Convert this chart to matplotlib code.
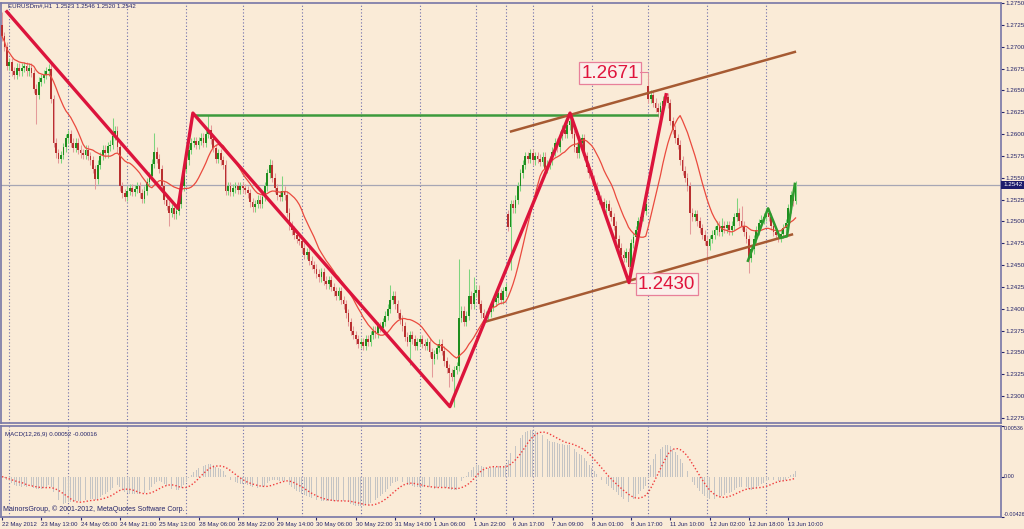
import numpy as np
import pandas as pd
import matplotlib
matplotlib.use("Agg")
import matplotlib.pyplot as plt
from matplotlib.transforms import blended_transform_factory

plt.rcParams["font.family"] = ["Liberation Sans", "DejaVu Sans"]

BG = "#FAEBD7"
NAVY = "#24246A"
FRAME = "#7676A6"
GRID = "#6C6CAA"

# hourly closes, pips above 1.2000, one row per 16 bars (one x label each)
close_pips = [
    712, 700, 678, 682, 672, 668, 676, 672, 676, 678, 672, 676, 670, 652, 645, 660,
    664, 668, 672, 675, 640, 590, 578, 572, 576, 585, 595, 600, 590, 584, 590, 582,
    578, 576, 582, 575, 570, 560, 548, 565, 575, 582, 578, 586, 588, 598, 604, 585,
    540, 532, 528, 535, 538, 534, 537, 540, 532, 526, 535, 545, 552, 566, 580, 572,
    560, 540, 525, 518, 510, 515, 508, 512, 520, 540, 560, 570, 582, 590, 592, 588,
    592, 596, 590, 600, 605, 594, 584, 572, 578, 570, 565, 535, 540, 534, 538, 540,
    536, 540, 538, 536, 532, 522, 516, 520, 525, 520, 528, 540, 555, 565, 550, 538,
    530, 528, 535, 530, 510, 495, 490, 485, 480, 478, 470, 462, 465, 455, 450, 446,
    440, 436, 442, 432, 428, 433, 425, 420, 415, 420, 410, 405, 395, 385, 375, 370,
    365, 360, 362, 358, 365, 362, 370, 375, 372, 380, 378, 385, 392, 400, 410, 415,
    405, 395, 388, 380, 368, 362, 370, 365, 358, 362, 365, 360, 358, 362, 350, 342,
    348, 355, 360, 352, 340, 332, 326, 322, 330, 334, 390, 398, 385, 392, 415, 405,
    418, 422, 405, 395, 390, 392, 396, 402, 408, 412, 418, 410, 420, 425, 494, 520,
    515, 525, 540, 555, 565, 575, 572, 578, 570, 575, 572, 568, 574, 560, 565, 570,
    580, 590, 585, 598, 605, 600, 610, 615, 600, 585, 578, 590, 595, 575, 562, 555,
    548, 540, 530, 525, 522, 515, 520, 512, 505, 495, 480, 470, 462, 458, 465, 448,
    475, 482, 490, 500, 505, 512, 520, 640, 645, 636, 630, 625, 632, 638, 642, 635,
    615, 605, 595, 588, 570, 558, 550, 540, 510, 505, 508, 500, 492, 485, 478, 472,
    480, 485, 490, 495, 488, 495, 492, 496, 490, 495, 505, 510, 500, 495, 488, 480,
    458, 468, 480, 490, 498, 502, 505, 510, 505, 495, 488, 485, 482, 486, 492, 498,
    515, 530, 523, 542,
]
first_open = 1.2725
# opening prices after data / weekend gaps
gap_opens = {206: 1.2508, 263: 1.2655}
# long shadows
spike_highs = {0: 1.2740, 45: 1.2618, 62: 1.2601, 84: 1.2622, 109: 1.2572, 114: 1.2552,
               158: 1.2427, 186: 1.2457, 190: 1.2446, 192: 1.2436, 263: 1.2670,
               293: 1.2504, 299: 1.2527, 301: 1.2518, 311: 1.2515, 323: 1.2546}
spike_lows = {14: 1.2612, 38: 1.2537, 68: 1.2495, 166: 1.2336, 175: 1.2322, 182: 1.2310,
              184: 1.2288, 207: 1.2444, 255: 1.2430, 280: 1.2486, 287: 1.2452,
              304: 1.2441, 323: 1.2520}

time_labels = ["22 May 2012", "23 May 13:00", "24 May 05:00", "24 May 21:00",
               "25 May 13:00", "28 May 06:00", "28 May 22:00", "29 May 14:00",
               "30 May 06:00", "30 May 22:00", "31 May 14:00", "1 Jun 06:00",
               "1 Jun 22:00", "6 Jun 17:00", "7 Jun 09:00", "8 Jun 01:00",
               "8 Jun 17:00", "11 Jun 10:00", "12 Jun 02:00", "12 Jun 18:00",
               "13 Jun 10:00"]
day_starts = [3, 27, 51, 75, 98, 122, 146, 170, 193, 205, 216, 240, 263, 287, 311]

# hand drawn objects (bar, price)
zz_bars = [2, 71.6, 77.7, 182.3, 231.2, 255.2, 270.3]
zz_prices = [1.2740, 1.2515, 1.2624, 1.2288, 1.2624, 1.2430, 1.2645]
zz2_bars = [303.6, 311.8, 316.7, 319.5, 322.7]
zz2_prices = [1.2455, 1.2515, 1.2481, 1.2483, 1.2543]
hline_bars = [78.0, 266.5]
hline_price = 1.2622
chan_up_bars, chan_up_prices = [207.2, 322.7], [1.2603, 1.2694]
chan_lo_bars, chan_lo_prices = [197.0, 321.5], [1.23855, 1.2485]
bid = 1.2542
macd_ticks = [-0.00426, 0.0, 0.00536]
macd_tick_labels = ["-0.00426", "0.00", "0.00536"]

closes = 1.2 + np.array(close_pips) / 10000.0
n = len(closes)
opens = np.concatenate([[first_open], closes[:-1]])
for i, v in gap_opens.items():
    opens[i] = v
WICK = 0.0005
hi = np.maximum(opens, closes) + WICK
lo = np.minimum(opens, closes) - WICK
for i, v in spike_highs.items():
    hi[i] = v
for i, v in spike_lows.items():
    lo[i] = v
bars = np.arange(n)
up = closes >= opens

s = pd.Series(closes)
ma = s.rolling(14, min_periods=1).mean()
macd = s.ewm(span=12, adjust=False).mean() - s.ewm(span=26, adjust=False).mean()
signal = macd.rolling(9, min_periods=1).mean()

W, H = 1024, 529
fig = plt.figure(figsize=(W / 100, H / 100), dpi=100, facecolor=BG)


def px_axes(x0, y0, x1, y1):
    return fig.add_axes([x0 / W, 1 - y1 / H, (x1 - x0) / W, (y1 - y0) / H])


ax = px_axes(1, 3, 1001, 423)
axm = px_axes(1, 426, 1001, 517)
XL = (-0.4, 406.6)
FS = 4.5

for a in (ax, axm):
    a.set_facecolor(BG)
    a.set_xlim(*XL)
    for sp in a.spines.values():
        sp.set_color(FRAME)
        sp.set_linewidth(1.2)
    for d in day_starts:
        a.axvline(d, color=GRID, lw=0.8, ls=(0, (1, 2)), zorder=0)
    a.yaxis.tick_right()
    a.tick_params(axis="y", labelsize=FS, colors=NAVY, length=2, pad=1)

# --- main panel ---
ax.set_ylim(1.22693, 1.27477)
ax.set_xticks([])
yt = np.arange(1.2275, 1.27501, 0.0025)
ax.set_yticks(yt)
ax.set_yticklabels([f"{v:.4f}" for v in yt])
ax.axhline(bid, color="#A6A6B4", lw=0.9, zorder=1)

ax.vlines(bars[up], lo[up], hi[up], color="#7ED47E", lw=0.75, zorder=2)
ax.vlines(bars[~up], lo[~up], hi[~up], color="#E49A9A", lw=0.75, zorder=2)
body_lo = np.minimum(opens, closes)
body_h = np.maximum(np.abs(closes - opens), 0.00008)
ax.bar(bars[up], body_h[up], bottom=body_lo[up], width=0.72, color="#1E8E1E", lw=0, zorder=3)
ax.bar(bars[~up], body_h[~up], bottom=body_lo[~up], width=0.72, color="#B83030", lw=0, zorder=3)

ax.plot(bars, ma, color="#EA4A3E", lw=0.9, zorder=4)
ax.plot(hline_bars, [hline_price] * 2, color="#3C9A3C", lw=1.8, zorder=5)
ax.plot(chan_up_bars, chan_up_prices, color="#A65A32", lw=1.8, zorder=5)
ax.plot(chan_lo_bars, chan_lo_prices, color="#A65A32", lw=1.8, zorder=5)
ax.plot(zz_bars, zz_prices, color="#DC143C", lw=2.4, zorder=6)
ax.plot(zz2_bars, zz2_prices, color="#2E9A2E", lw=1.8, zorder=6)

lab_box = dict(boxstyle="square,pad=0.12", fc="#FBF0EA", ec="#E8809A", lw=0.9)
ax.text(247.5, 1.26697, "1.2671", color="#E0143C", fontsize=13.5,
        ha="center", va="center", bbox=lab_box, zorder=7)
ax.plot([259.8, 262.6], [1.2671, 1.2671], color="#E8809A", lw=0.8, zorder=7)
ax.text(270.5, 1.24282, "1.2430", color="#E0143C", fontsize=13.5,
        ha="center", va="center", bbox=lab_box, zorder=7)
ax.plot([255.4, 257.9], [1.2430, 1.2430], color="#E8809A", lw=0.8, zorder=7)

tr = blended_transform_factory(ax.transAxes, ax.transData)
ax.text(1.002, bid, f"{bid:.4f}", transform=tr, color="white", fontsize=FS,
        va="center", ha="left", bbox=dict(boxstyle="square,pad=0.25", fc="#1C1C6C", ec="none"),
        zorder=8, clip_on=False)

fig.text(8 / W, 1 - 6 / H, "EURUSDm#,H1  1.2523 1.2546 1.2520 1.2542",
         color=NAVY, fontsize=4.4, va="center", ha="left")

# --- MACD panel ---
axm.set_ylim(macd_ticks[0], macd_ticks[-1])
axm.bar(bars, macd, width=0.35, color="#C4C4C4", lw=0, zorder=2)
axm.plot(bars, signal, color="#F03C3C", lw=1.0, ls=(0, (1, 1.5)), zorder=3)
axm.set_yticks(macd_ticks)
axm.set_yticklabels([])
trm = blended_transform_factory(fig.transFigure, axm.transData)
for v, t, va in zip(macd_ticks, macd_tick_labels, ["bottom", "center", "top"]):
    axm.text(1004 / W, v, t, transform=trm, color=NAVY, fontsize=3.9,
             ha="left", va=va, clip_on=False)
axm.set_xticks(np.arange(0, 16 * len(time_labels), 16))
axm.set_xticklabels(time_labels, ha="left")
axm.tick_params(axis="x", labelsize=4.3, colors=NAVY, length=2, pad=1.5)
axm.text(0.004, 0.93, "MACD(12,26,9) 0.00052 -0.00016", transform=axm.transAxes,
         color=NAVY, fontsize=4.4, va="top", ha="left")
axm.text(0.002, 0.04, "MainorsGroup, \u00a9 2001-2012, MetaQuotes Software Corp.",
         transform=axm.transAxes, color=NAVY, fontsize=5.0, va="bottom", ha="left")

fig.savefig("out.png", dpi=100, facecolor=BG)
